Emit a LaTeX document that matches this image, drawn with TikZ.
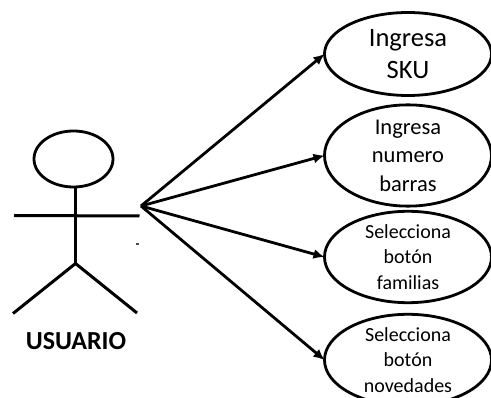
\documentclass[tikz,border=0pt]{standalone}
\usepackage{fontspec}
\setmainfont{Carlito}
\usetikzlibrary{arrows.meta,shapes.geometric}
\tikzset{
  usecase/.style={draw,line width=2.8pt,ellipse,inner sep=0pt,outer sep=0pt,align=center,text=black,minimum width=167pt,minimum height=83pt},
  limb/.style={line width=3pt},
  conn/.style={line width=2.8pt,-{Latex[length=11pt,width=10pt]}},
}
\begin{document}
\begin{tikzpicture}[x=1pt,y=-1pt]
\useasboundingbox (0,0) rectangle (491,398);
\clip (0,0) rectangle (491,398);
\node[usecase,font=\fontsize{26.5}{32}\selectfont] (sku) at (408,54) {Ingresa\\SKU};
\node[usecase,font=\fontsize{22.5}{28.5}\selectfont] (barras) at (408,155.5) {Ingresa\\numero\\barras};
\node[usecase,font=\fontsize{20}{25.3}\selectfont] (familias) at (408,257) {Selecciona\\botón\\familias};
\node[usecase,font=\fontsize{20}{25.3}\selectfont,minimum height=85pt] (novedades) at (408,360) {Selecciona\\botón\\novedades};
\node[draw,line width=2.8pt,ellipse,inner sep=0pt,outer sep=0pt,minimum width=79pt,minimum height=56pt] (head) at (73.5,159) {};
\coordinate (hub) at (141,206);
\coordinate (hip) at (75.5,263.5);
\coordinate (lh) at (14,215.5);
\coordinate (rh) at (139.5,216);
\coordinate (lf) at (13,313.5);
\coordinate (rf) at (137,313);
\draw[limb] (head.south -| hip) -- (hip);
\draw[limb] (lh) -- (rh);
\draw[limb] (lf) -- (hip) -- (rf);
\node[font=\bfseries\fontsize{26}{30}\selectfont,inner sep=0pt] (lbl) at (76,341) {USUARIO};
\fill[black!70] (136,243) rectangle (139,245.5);
\draw[conn] (hub) -- (sku.west);
\draw[conn] (hub) -- (barras.west);
\draw[conn] (hub) -- (familias.west);
\draw[conn] (hub) -- (novedades.west);
\end{tikzpicture}
\end{document}
